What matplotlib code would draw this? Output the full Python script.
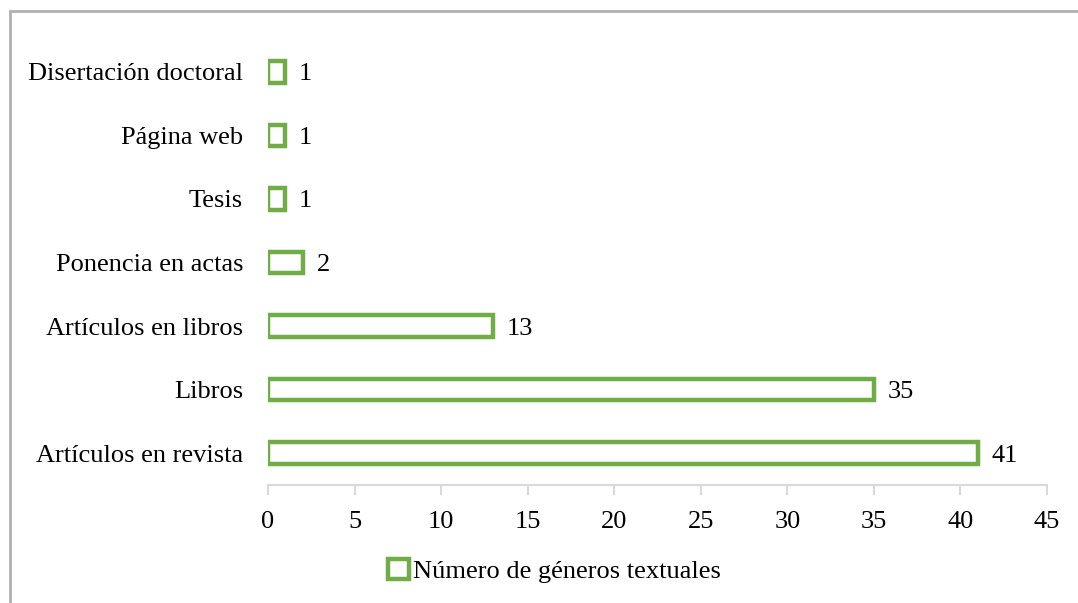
import matplotlib
matplotlib.use("Agg")
import matplotlib.pyplot as plt
from matplotlib.patches import Rectangle

categories = ["Artículos en revista", "Libros", "Artículos en libros",
              "Ponencia en actas", "Tesis", "Página web", "Disertación doctoral"]
values = [41, 35, 13, 2, 1, 1, 1]
series_name = "Número de géneros textuales"
xticks = [0, 5, 10, 15, 20, 25, 30, 35, 40, 45]

GREEN = "#70ad47"
FS = 19
plt.rcParams['font.family'] = ['Liberation Serif', 'DejaVu Serif']

W, H = 1078, 603
fig = plt.figure(figsize=(W / 100, H / 100), dpi=100)
ax = fig.add_axes([268 / W, 1 - 485 / H, (1047 - 268) / W, (485 - 40) / H])

bars = ax.barh(range(len(categories)), values, height=0.34, color="white",
               edgecolor=GREEN, linewidth=3.2, label=series_name)
for b, v in zip(bars, values):
    ax.text(b.get_width() + 0.8, b.get_y() + b.get_height() / 2, str(v),
            va="center_baseline", ha="left", fontsize=FS, color="#000000")

ax.set_xlim(0, 45)
ax.set_ylim(-0.5, len(categories) - 0.5)
ax.set_xticks(xticks)
ax.set_yticks(range(len(categories)))
ax.set_yticklabels(categories)
for lbl in ax.get_yticklabels():
    lbl.set_verticalalignment("center_baseline")
ax.tick_params(axis="y", length=0, pad=18, labelsize=FS)
ax.tick_params(axis="x", length=7, width=1.5, color="#d9d9d9", pad=12, labelsize=FS)
for s in ["top", "right", "left"]:
    ax.spines[s].set_visible(False)
ax.spines["bottom"].set_color("#d9d9d9")
ax.spines["bottom"].set_linewidth(1.5)

fig.legend(handles=[bars], labels=[series_name], loc="center",
           bbox_to_anchor=(554 / W, 1 - 571 / H), frameon=False, fontsize=FS,
           handlelength=0.8, handleheight=0.8, handletextpad=0.15)

fig.patches.append(Rectangle((10 / W, -0.1), 1.2, (1 - 11 / H) + 0.1,
                             transform=fig.transFigure, fill=False,
                             edgecolor="#b0b0b0", linewidth=2.0))

fig.savefig("out.png", dpi=100)
